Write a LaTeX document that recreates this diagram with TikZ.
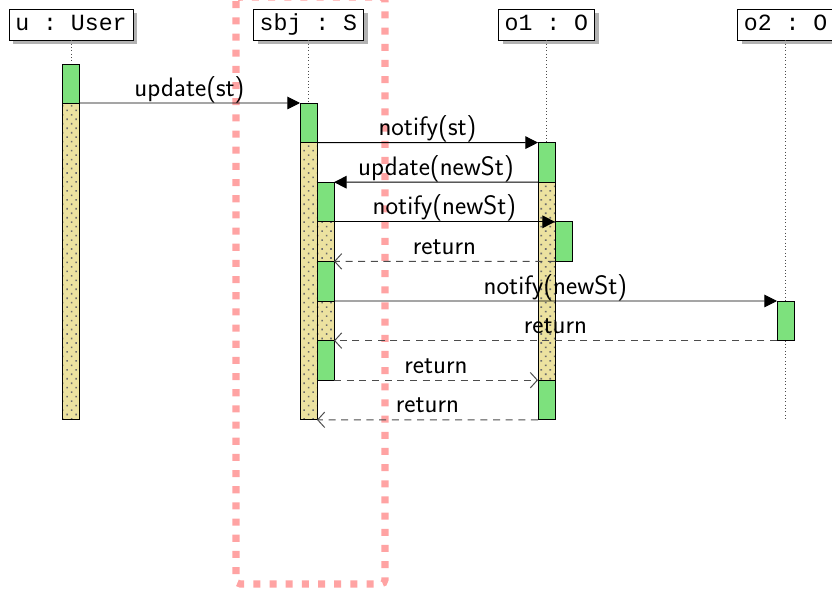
\documentclass[tikz,border=0pt]{standalone}
\usepackage{fontspec}
\setmonofont{Liberation Mono}
\usetikzlibrary{arrows.meta,positioning,shadows,patterns.meta}

\definecolor{actgreen}{RGB}{125,225,125}
\definecolor{actyellow}{RGB}{236,226,160}
\definecolor{framered}{RGB}{255,163,163}

\begin{document}
\begin{tikzpicture}[font=\sffamily\fontsize{19}{22}\selectfont,
  inst/.style={draw, fill=white, font=\ttfamily\fontsize{16.5}{19}\selectfont,
    inner xsep=4.5pt, inner ysep=3.5pt, text height=12pt, text depth=3pt,
    drop shadow={shadow xshift=3pt, shadow yshift=-3pt, fill=gray!60, opacity=1}},
  act/.style={draw, line width=0.7pt, anchor=north west, minimum width=0.425cm,
    inner sep=0pt, outer sep=0pt},
  busy/.style={act, fill=actgreen},
  wait/.style={act, preaction={fill=actyellow},
    pattern={Dots[distance=4.5pt, angle=45, radius=0.8pt]}, pattern color=gray!85!black},
  call/.style={-{Triangle[length=9pt, width=9pt]}, line width=0.7pt},
  ret/.style={-{Straight Barb[length=5pt, width=11pt]}, dash pattern=on 5pt off 4pt,
    draw=black!70, line width=0.7pt},
  life/.style={dotted, draw=black!70},
  msg/.style={above, text depth=0pt, inner sep=0pt, yshift=4.5pt}]
\useasboundingbox (0,0) rectangle (20.8,-14.725);

% highlighted subject column
\draw[framered, line width=5pt, dash pattern=on 5pt off 6.5pt, rounded corners=3pt]
  (5.9,0.075) rectangle (9.625,-14.6);

% instances
\node[inst] (user) at (1.775,-0.6125) {u : User};
\node[inst] (sbj) at (7.71,-0.6125) {sbj : S};
\node[inst] (obs1) at (13.66,-0.6125) {o1 : O};
\node[inst] (obs2) at (19.64,-0.6125) {o2 : O};

\coordinate (tend) at (0,-10.495);
\foreach \i in {user,sbj,obs1,obs2}
  \draw[life] (\i.south) -- (\i.south |- tend);

% activations
\node[busy, minimum height=0.975cm] (u1) at (1.55,-1.6) {};
\node[wait, minimum height=7.92cm] (u2) at (1.55,-2.575) {};
\node[busy, minimum height=0.99cm] (s1) at (7.5,-2.575) {};
\node[wait, minimum height=6.93cm] (s2) at (7.5,-3.565) {};
\node[busy, minimum height=0.99cm] (n1) at (7.925,-4.555) {};
\node[wait, minimum height=0.99cm] (n2) at (7.925,-5.545) {};
\node[busy, minimum height=0.99cm] (n3) at (7.925,-6.535) {};
\node[wait, minimum height=0.99cm] (n4) at (7.925,-7.525) {};
\node[busy, minimum height=0.99cm] (n5) at (7.925,-8.515) {};
\node[busy, minimum height=0.99cm] (p1) at (13.45,-3.565) {};
\node[wait, minimum height=4.95cm] (p2) at (13.45,-4.555) {};
\node[busy, minimum height=0.99cm] (p3) at (13.45,-9.505) {};
\node[busy, minimum height=0.99cm] (q1) at (13.875,-5.545) {};
\node[busy, minimum height=0.99cm] (r1) at (19.425,-7.525) {};

% messages
\draw[call] (u1.south east) -- node[msg] {update(st)} (s1.north west);
\draw[call] (s1.south east) -- node[msg] {notify(st)} (p1.north west);
\draw[call] (p1.south west) -- node[msg] {update(newSt)} (n1.north east);
\draw[call] (n1.south east) -- node[msg] {notify(newSt)} (q1.north west);
\draw[ret] (q1.south west) -- node[msg] {return} (n3.north east);
\draw[call] (n3.south east) -- node[msg] {notify(newSt)} (r1.north west);
\draw[ret] (r1.south west) -- node[msg] {return} (n5.north east);
\draw[ret] (n5.south east) -- node[msg] {return} (p3.north west);
\draw[ret] (p3.south west) -- node[msg] {return} (s2.south east);
\end{tikzpicture}
\end{document}
